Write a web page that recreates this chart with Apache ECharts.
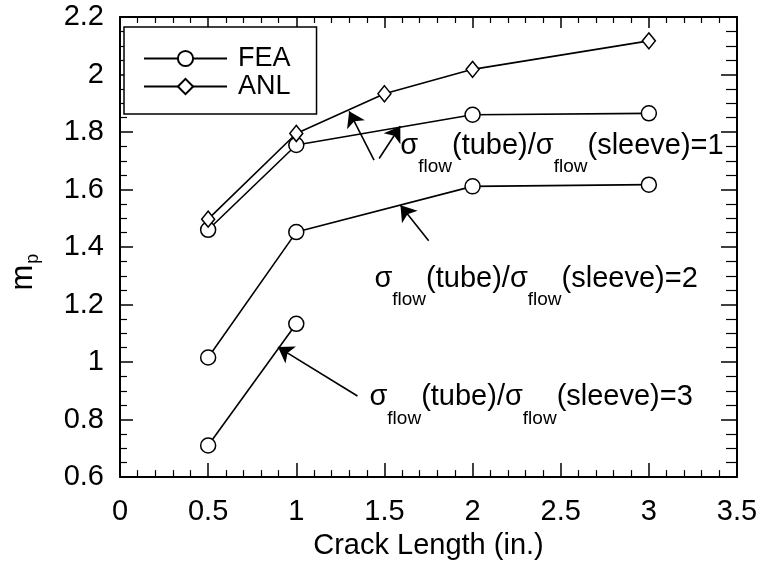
<!DOCTYPE html>
<html>
<head>
<meta charset="utf-8">
<script src="https://cdn.jsdelivr.net/npm/echarts@6/dist/echarts.min.js"></script>
<style>
html,body{margin:0;padding:0;background:#fff;}
#c{width:762px;height:565px;}
</style>
</head>
<body>
<div id="c"></div>
<script>
// ---- data ----
const xTicks = [0, 0.5, 1, 1.5, 2, 2.5, 3, 3.5];
const yTicks = [0.6, 0.8, 1, 1.2, 1.4, 1.6, 1.8, 2, 2.2];
const feaRatio1X = [0.5, 1, 2, 3];
const feaRatio1Y = [1.46, 1.755, 1.86, 1.865];
const anlX = [0.5, 1, 1.5, 2, 3];
const anlY = [1.497, 1.795, 1.933, 2.018, 2.117];
const feaRatio2X = [0.5, 1, 2, 3];
const feaRatio2Y = [1.016, 1.452, 1.611, 1.617];
const feaRatio3X = [0.5, 1];
const feaRatio3Y = [0.71, 1.133];
const ratioValues = ['1', '2', '3'];

// annotation geometry (data coordinates)
const arrowTails = [[1.441, 1.702], [1.470, 1.708], [1.751, 1.422], [1.347, 0.882]];
const arrowHeads = [[1.300, 1.872], [1.590, 1.820], [1.591, 1.545], [0.896, 1.052]];
const labelAnchors = [[1.590, 1.760], [1.443, 1.299], [1.415, 0.886]];

const FONT = '"Liberation Sans", Arial, Helvetica, sans-serif';
const zip = (xs, ys) => xs.map((x, i) => [x, ys[i]]);

const chart = echarts.init(document.getElementById('c'), null, {renderer: 'canvas'});

const symStyle = {color: '#fff', borderColor: '#000', borderWidth: 1.5};
const lnStyle = {color: '#000', width: 1.6};

function mkSeries(name, xs, ys, symbol) {
  return {
    name: name, type: 'line', data: zip(xs, ys),
    symbol: symbol, symbolSize: symbol === 'diamond' ? [13, 16] : 15,
    showAllSymbol: true,
    itemStyle: symStyle, lineStyle: lnStyle,
    emphasis: {disabled: true}, z: 3
  };
}

const arrowLines = arrowTails.map((t, i) => [{coord: t}, {coord: arrowHeads[i]}]);

const anl = mkSeries('ANL', anlX, anlY, 'diamond');
anl.markLine = {
  silent: true, symbol: ['none', 'arrow'], symbolSize: 15,
  label: {show: false},
  itemStyle: {color: '#000'},
  lineStyle: {color: '#000', width: 1.6, type: 'solid'},
  emphasis: {disabled: true}, data: arrowLines, animation: false
};

const axisCommon = {
  type: 'value',
  axisLine: {show: true, onZero: false, lineStyle: {color: '#000', width: 2}},
  splitLine: {show: false},
  axisTick: {show: true, inside: true, length: 14, lineStyle: {color: '#000', width: 1.5}},
  minorTick: {show: true, length: 7, lineStyle: {color: '#000', width: 1.2}},
};

const option = {
  animation: false,
  backgroundColor: '#fff',
  grid: {left: 116, right: 25, top: 17, bottom: 83, containLabel: false},
  legend: {
    data: ['FEA', 'ANL'], orient: 'vertical', left: 124, top: 27,
    padding: [18, 26, 14, 19], itemWidth: 83, itemHeight: 19, itemGap: 1,
    borderColor: '#000', borderWidth: 1.5, backgroundColor: '#fff',
    textStyle: {fontFamily: FONT, fontSize: 27, color: '#000', padding: [0, 0, 0, 6]},
    selectedMode: false
  },
  xAxis: [
    Object.assign({}, axisCommon, {
      position: 'bottom', min: xTicks[0], max: xTicks[xTicks.length - 1], interval: 0.5,
      minorTick: Object.assign({}, axisCommon.minorTick, {splitNumber: 5}),
      axisLabel: {fontFamily: FONT, fontSize: 29, color: '#000', margin: 20},
      name: 'Crack Length (in.)', nameLocation: 'middle', nameGap: 48,
      nameTextStyle: {fontFamily: FONT, fontSize: 29, color: '#000'}
    }),
    Object.assign({}, axisCommon, {
      position: 'top', min: xTicks[0], max: xTicks[xTicks.length - 1], interval: 0.5,
      axisTick: Object.assign({}, axisCommon.axisTick, {length: 11}),
      minorTick: Object.assign({}, axisCommon.minorTick, {splitNumber: 5, length: 6}),
      axisLabel: {show: false}
    })
  ],
  yAxis: [
    Object.assign({}, axisCommon, {
      position: 'left', min: yTicks[0], max: yTicks[yTicks.length - 1], interval: 0.2,
      minorTick: Object.assign({}, axisCommon.minorTick, {splitNumber: 4}),
      axisTick: Object.assign({}, axisCommon.axisTick, {length: 13}),
      axisLabel: {fontFamily: FONT, fontSize: 29, color: '#000', margin: 16},
      name: '{m|m}{p|p}', nameLocation: 'middle', nameGap: 78, nameRotate: 90,
      nameTextStyle: {
        fontFamily: FONT, color: '#000', padding: [0, 50, 0, 0],
        rich: {
          m: {fontFamily: FONT, fontSize: 31, color: '#000', verticalAlign: 'top'},
          p: {fontFamily: FONT, fontSize: 18, color: '#000', verticalAlign: 'bottom', padding: [16, 0, 0, 1]}
        }
      }
    }),
    Object.assign({}, axisCommon, {
      position: 'right', min: yTicks[0], max: yTicks[yTicks.length - 1], interval: 0.2,
      minorTick: Object.assign({}, axisCommon.minorTick, {splitNumber: 4, length: 11}),
      axisTick: Object.assign({}, axisCommon.axisTick, {length: 16}),
      axisLabel: {show: false}
    })
  ],
  series: [
    mkSeries('FEA', feaRatio1X, feaRatio1Y, 'circle'),
    anl,
    mkSeries('FEA', feaRatio2X, feaRatio2Y, 'circle'),
    mkSeries('FEA', feaRatio3X, feaRatio3Y, 'circle')
  ]
};

chart.setOption(option);

const rich = {
  s: {fontFamily: FONT, fontSize: 29, fill: '#000', verticalAlign: 'top'},
  t: {fontFamily: FONT, fontSize: 29, fill: '#000', verticalAlign: 'top'},
  sub: {fontFamily: FONT, fontSize: 19, fill: '#000', verticalAlign: 'bottom', padding: [26, 0, 0, 0]}
};

const graphics = ratioValues.map((r, i) => {
  const p = chart.convertToPixel({xAxisIndex: 0, yAxisIndex: 0}, labelAnchors[i]);
  return {
    type: 'text', x: p[0], y: p[1] - 12, z: 10, silent: true,
    style: {
      text: '{s|σ}{sub|flow}{t|(tube)/}{s|σ}{sub|flow}{t|(sleeve)=' + r + '}',
      rich: rich, align: 'left', verticalAlign: 'top', fill: '#000'
    }
  };
});

chart.setOption({graphic: graphics});
</script>
</body>
</html>
